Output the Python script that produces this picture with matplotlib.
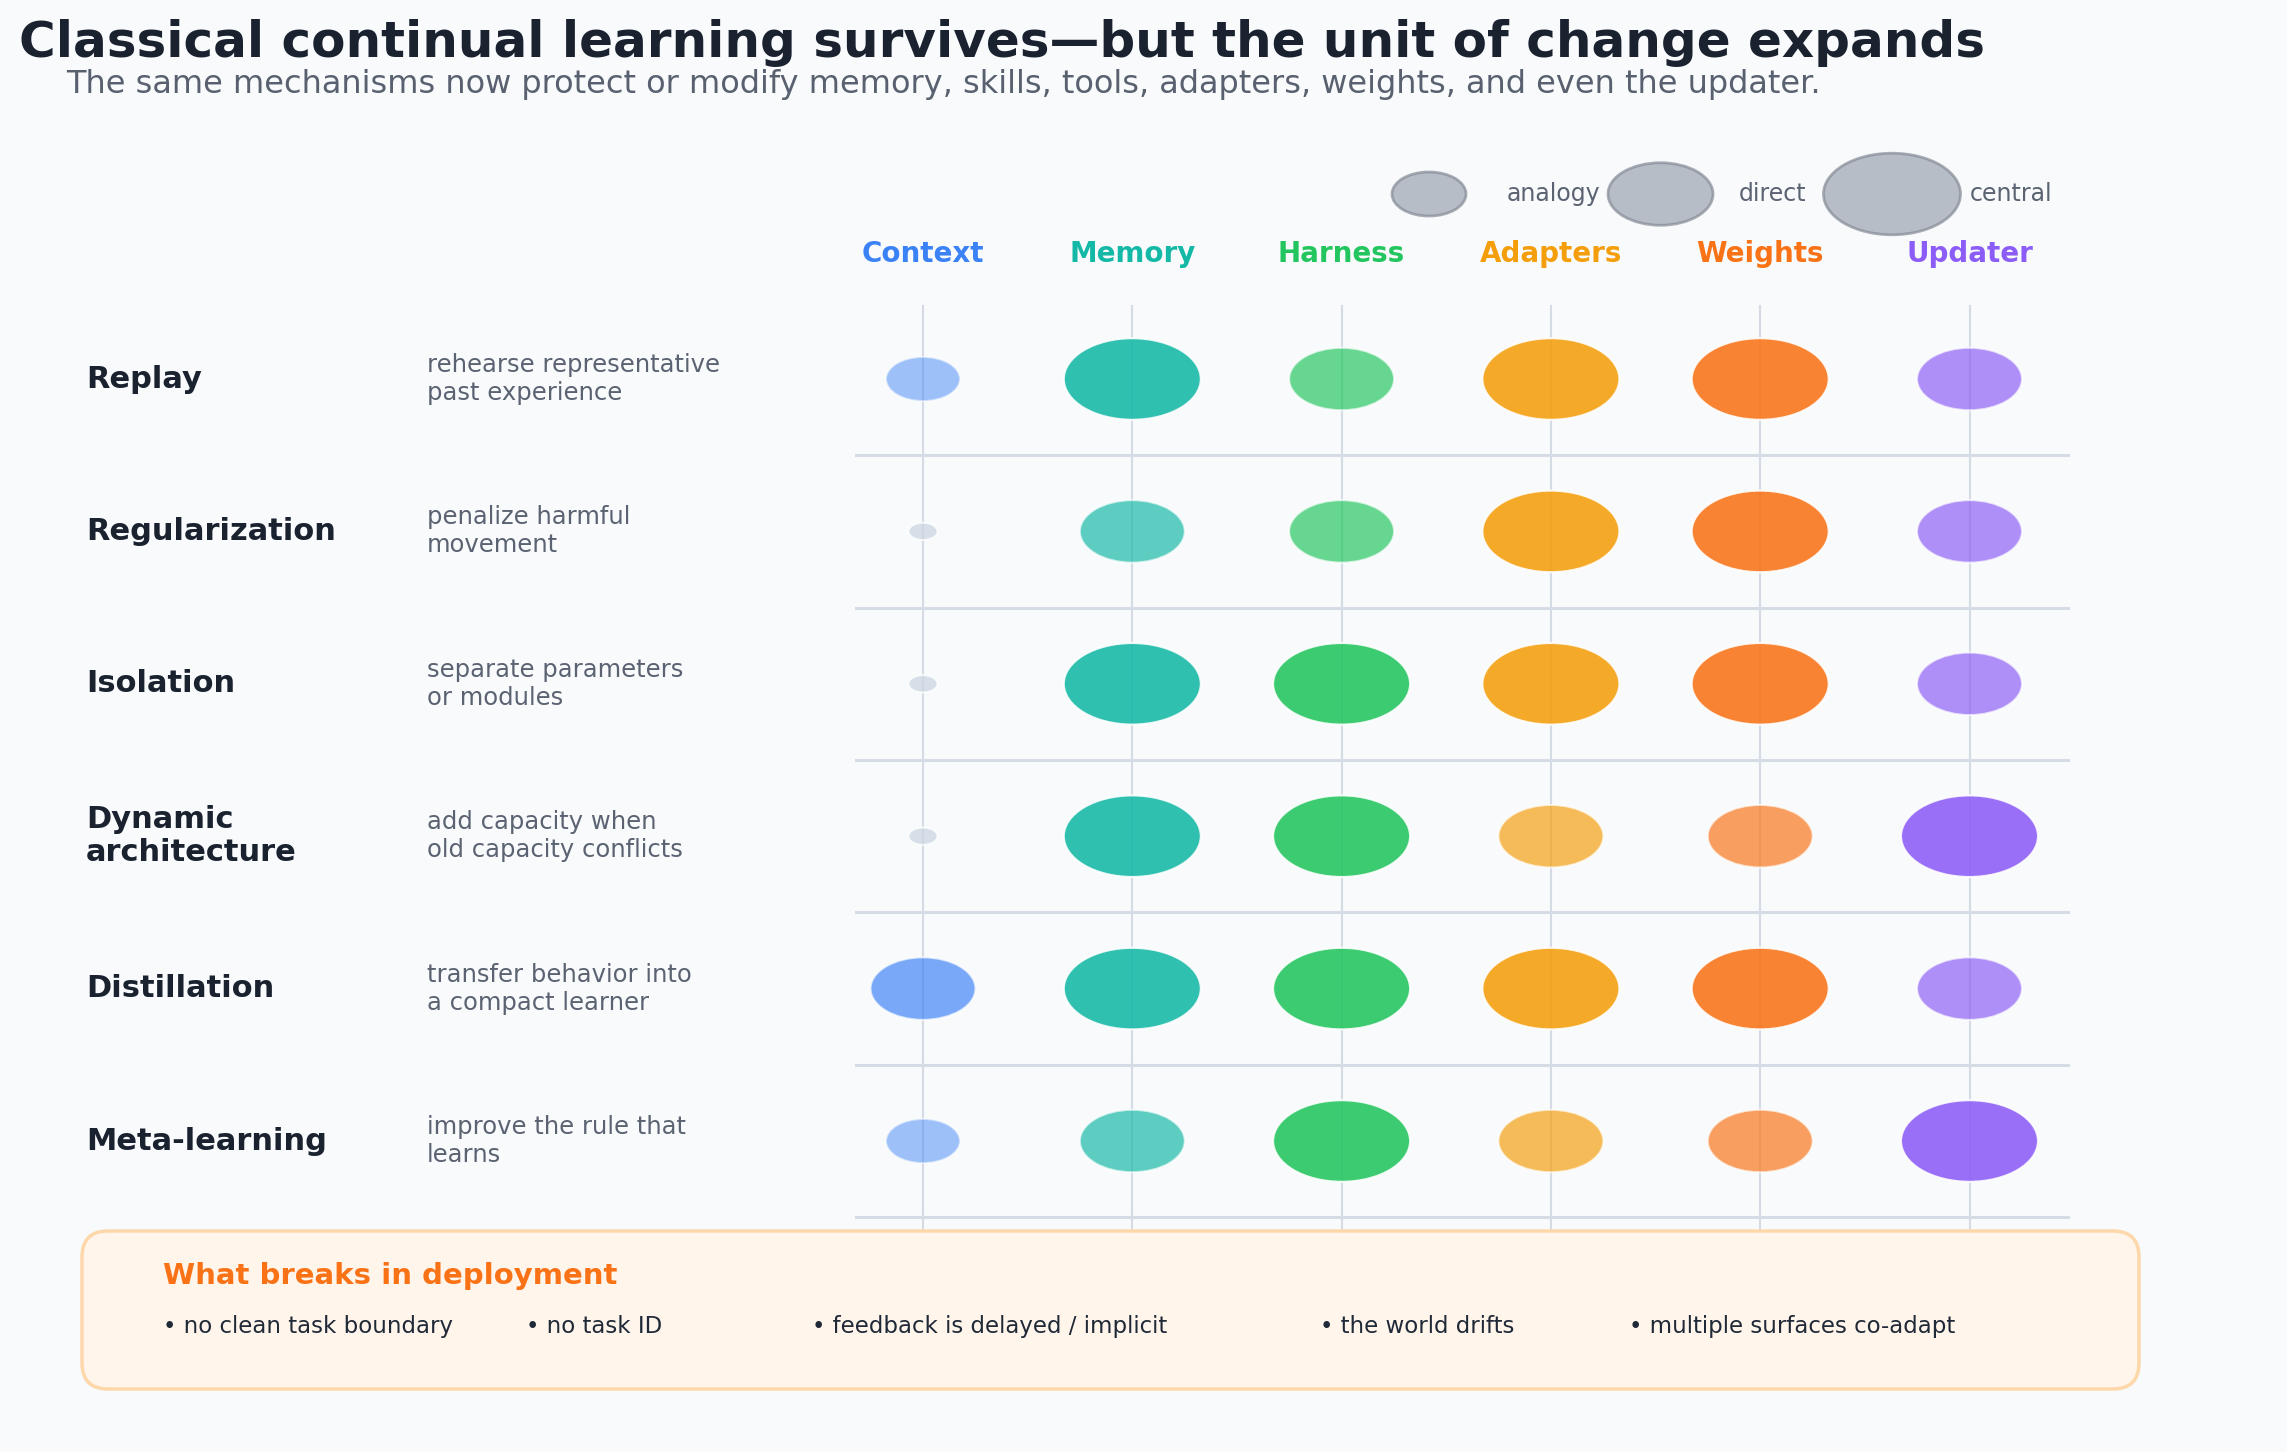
import matplotlib.pyplot as plt
from matplotlib.patches import Ellipse, FancyBboxPatch

# Data
columns = ["Context", "Memory", "Harness", "Adapters", "Weights", "Updater"]
col_colors = ["#3b82f6", "#14b8a6", "#22c55e", "#f59e0b", "#f97316", "#8b5cf6"]
mechanisms = ["Replay", "Regularization", "Isolation", "Dynamic\narchitecture",
              "Distillation", "Meta-learning"]
descriptions = [
    "rehearse representative\npast experience",
    "penalize harmful\nmovement",
    "separate parameters\nor modules",
    "add capacity when\nold capacity conflicts",
    "transfer behavior into\na compact learner",
    "improve the rule that\nlearns",
]
# 0 = none, 1 = analogy, 2 = direct, 3 = central
replay = [1, 3, 2, 3, 3, 2]
regularization = [0, 2, 2, 3, 3, 2]
isolation = [0, 3, 3, 3, 3, 2]
dynamic_arch = [0, 3, 3, 2, 2, 3]
distillation = [2, 3, 3, 3, 3, 2]
meta_learning = [1, 2, 3, 2, 2, 3]
levels = [replay, regularization, isolation, dynamic_arch, distillation, meta_learning]
level_names = ["analogy", "direct", "central"]
breaks = ["no clean task boundary", "no task ID", "feedback is delayed / implicit",
          "the world drifts", "multiple surfaces co-adapt"]

# Layout (pixel canvas)
W, H = 2287, 1452
bg = "#f8fafc"
dark = "#1a2230"
gray_text = "#5b6372"
col_x0, col_dx = 923, 209.3
row_y0, row_dy = 379, 152.4
bubble_w = [29, 74, 105, 137]
aspect = 1.68
alphas = [0.75, 0.48, 0.68, 0.88]

fig = plt.figure(figsize=(W / 100, H / 100), dpi=100, facecolor=bg)
ax = fig.add_axes([0, 0, 1, 1])
ax.set_xlim(0, W)
ax.set_ylim(H, 0)
ax.axis("off")
ax.set_facecolor(bg)

ax.text(19, 43, "Classical continual learning survives\u2014but the unit of change expands",
        fontsize=36, fontweight="bold", color=dark, va="center", ha="left")
ax.text(66, 84, "The same mechanisms now protect or modify memory, skills, tools, adapters, weights, and even the updater.",
        fontsize=23, color="#596170", va="center", ha="left")

# size legend
leg_x0, leg_dx, leg_y = 1429, 231.5, 194
for k, name in enumerate(level_names):
    w = bubble_w[k + 1]
    cx = leg_x0 + k * leg_dx
    ax.add_patch(Ellipse((cx, leg_y), w, w / aspect, facecolor="#9ca3af", alpha=0.7,
                         edgecolor="#858b96", linewidth=2, zorder=3))
    ax.text(cx + 78, leg_y, name, fontsize=17, color=gray_text, va="center", ha="left")

n_rows = len(mechanisms)
grid_top = 306

for j, (col, c) in enumerate(zip(columns, col_colors)):
    x = col_x0 + j * col_dx
    ax.text(x, 254, col, fontsize=20, fontweight="bold", color=c, ha="center", va="center")
    ax.plot([x, x], [grid_top, 1240], color="#d5dbe4", linewidth=1.5, zorder=1)

for i in range(n_rows):
    y = row_y0 + i * row_dy
    ax.plot([856, 2068], [y + row_dy / 2] * 2, color="#d5dce6", linewidth=2.2, zorder=1)
    ax.text(86, y, mechanisms[i], fontsize=22, fontweight="bold", color=dark,
            ha="left", va="center", linespacing=1.15)
    ax.text(427, y, descriptions[i], fontsize=17.5, color=gray_text,
            ha="left", va="center", linespacing=1.22)
    for j, lv in enumerate(levels[i]):
        x = col_x0 + j * col_dx
        w = bubble_w[lv]
        fc = "#cbd5e1" if lv == 0 else col_colors[j]
        ax.add_patch(Ellipse((x, y), w, w / aspect, facecolor=fc, alpha=alphas[lv],
                             edgecolor="white", linewidth=1.5, zorder=2))

# deployment box
box = FancyBboxPatch((82, 1231), 2057, 158, boxstyle="round,pad=0,rounding_size=26",
                     facecolor="#fff5eb", edgecolor="#fed7aa", linewidth=2.5, zorder=4)
ax.add_patch(box)
ax.text(163, 1276, "What breaks in deployment", fontsize=21, fontweight="bold",
        color="#f97316", ha="left", va="center", zorder=5)
break_x = [163, 526, 812, 1320, 1629]
for bx, t in zip(break_x, breaks):
    ax.text(bx, 1333, "\u2022 " + t, fontsize=16.5, color="#1f2937",
            ha="left", va="baseline", zorder=5)

fig.savefig("out.png", dpi=100, facecolor=bg)
